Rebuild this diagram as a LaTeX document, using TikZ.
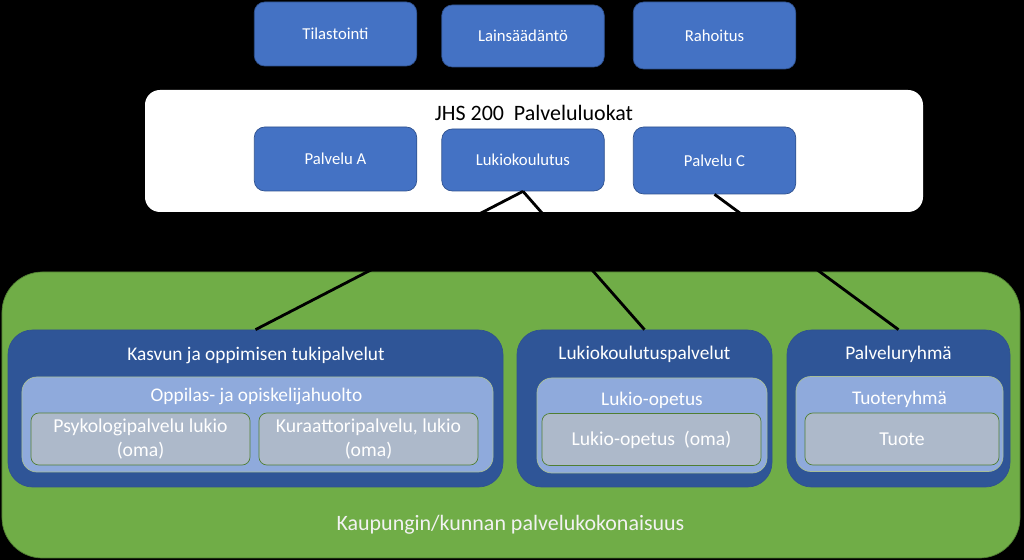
\documentclass[tikz,border=0pt]{standalone}
\usepackage{fontspec}
\setmainfont{Carlito}
\usetikzlibrary{positioning}

\definecolor{boxblue}{HTML}{4472C4}
\definecolor{boxedge}{HTML}{2F528F}
\definecolor{darkblue}{HTML}{2F5597}
\definecolor{lightblue}{HTML}{8FAADC}
\definecolor{greyblue}{HTML}{ADB9CA}
\definecolor{grass}{HTML}{70AD47}
\definecolor{grassedge}{HTML}{507E32}

\begin{document}
\begin{tikzpicture}[
    service/.style={rectangle, rounded corners=6pt, fill=boxblue, draw=boxedge, text=white, minimum width=3.25cm, font=\fontsize{9.5}{11}\selectfont},
    group/.style={rectangle, rounded corners=14pt, fill=darkblue, draw=boxedge, minimum height=3.14cm},
    subgroup/.style={rectangle, rounded corners=8.5pt, fill=lightblue, draw=grassedge!50, minimum height=1.9cm},
    item/.style={rectangle, rounded corners=4.5pt, fill=greyblue, draw=grassedge, text=white, minimum height=1.04cm, inner sep=1.5pt, align=center, font=\fontsize{11.2}{13.6}\selectfont},
    heading/.style={text=white, font=\fontsize{11}{13}\selectfont},
    link/.style={line width=1.6pt}
]
% Background
\useasboundingbox (0,0) rectangle (20.48,11.2);
\fill[black] (0,0) rectangle (20.48,11.2);

% Top row
\node[service, minimum height=1.28cm] (tilastointi) at (6.71,10.52) {Tilastointi};
\node[service, minimum height=1.24cm] (lainsaadanto) at (10.46,10.48) {Lainsäädäntö};
\node[service, minimum height=1.34cm] (rahoitus) at (14.29,10.49) {Rahoitus};

% JHS 200 frame
\node[rectangle, rounded corners=8.5pt, fill=white, minimum width=15.56cm, minimum height=2.44cm] (jhs) at (10.68,8.18) {};
\node[font=\fontsize{12.5}{15}\selectfont] (jhsotsikko) at (10.68,8.94) {JHS 200\ \ Palveluluokat};
\node[service, minimum height=1.28cm] (palvelua) at (6.71,8.02) {Palvelu A};
\node[service, minimum height=1.24cm] (lukiokoulutus) at (10.46,8.0) {Lukiokoulutus};
\node[service, minimum height=1.34cm] (palveluc) at (14.29,7.99) {Palvelu C};

% Whole of the city's services
\node[rectangle, rounded corners=23pt, fill=grass, draw=grassedge, minimum width=20.36cm, minimum height=5.72cm] (kokonaisuus) at (10.22,2.9) {};
\node[text=white!95!black, font=\fontsize{12.5}{15}\selectfont] (kokonaisuusteksti) at (10.21,0.7) {Kaupungin/kunnan palvelukokonaisuus};

% Left group
\node[group, minimum width=9.9cm] (kasvu) at (5.11,3.03) {};
\node[heading] (kasvuotsikko) at (5.12,4.1) {Kasvun ja oppimisen tukipalvelut};
\node[subgroup, minimum width=9.42cm] (huolto) at (5.15,2.71) {};
\node[heading] (huolto-otsikko) at (5.13,3.28) {Oppilas- ja opiskelijahuolto};
\node[item, minimum width=4.38cm] (psykologi) at (2.81,2.42) {Psykologipalvelu lukio\\(oma)};
\node[item, minimum width=4.38cm] (kuraattori) at (7.37,2.42) {Kuraattoripalvelu, lukio\\(oma)};

% Middle group
\node[group, minimum width=5.1cm] (lukiopalvelut) at (12.89,3.03) {};
\node[heading] (lukiopalvelutotsikko) at (12.89,4.12) {Lukiokoulutuspalvelut};
\node[subgroup, minimum width=4.6cm] (lukioopetus) at (13.04,2.69) {};
\node[heading] (lukioopetusotsikko) at (13.04,3.2) {Lukio-opetus};
\node[item, minimum width=4.38cm] (lukiooma) at (13.03,2.41) {Lukio-opetus\hspace{0.45em}(oma)};

% Right group
\node[group, minimum width=4.46cm] (palveluryhma) at (17.97,3.03) {};
\node[heading] (palveluryhmaotsikko) at (17.97,4.12) {Palveluryhmä};
\node[subgroup, minimum width=4.14cm] (tuoteryhma) at (17.99,2.72) {};
\node[heading] (tuoteryhmaotsikko) at (17.99,3.22) {Tuoteryhmä};
\node[item, minimum width=3.88cm] (tuote) at (18.04,2.42) {Tuote};

% Connectors
\draw[link] (lukiokoulutus.south) -- (kasvu.north);
\draw[link] (lukiokoulutus.south) -- (lukiopalvelut.north);
\draw[link] (palveluc.south) -- (palveluryhma.north);
\end{tikzpicture}
\end{document}
